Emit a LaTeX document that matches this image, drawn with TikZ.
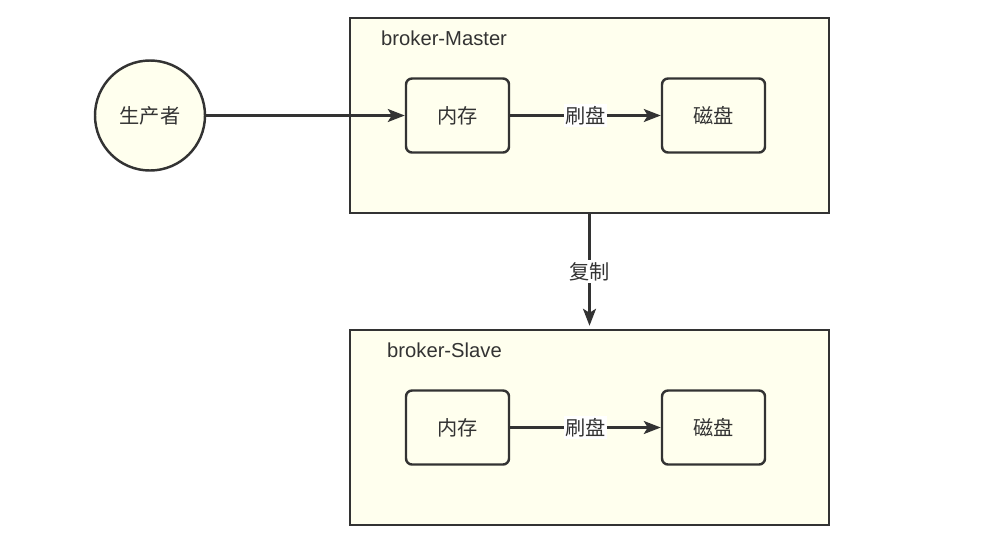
\documentclass[tikz,border=0pt]{standalone}
\usepackage{fontspec}
\setmainfont{Liberation Sans}
\newfontfamily\cjk{Noto Sans CJK SC}
\usetikzlibrary{arrows.meta}
\definecolor{boxfill}{HTML}{FFFFEE}
\definecolor{linegray}{HTML}{333333}

\begin{document}
\begin{tikzpicture}[x=0.2mm,y=-0.2mm,
    every node/.style={text=linegray,font=\fontsize{11.5}{13}\selectfont},
    broker/.style={draw=linegray,line width=1.4pt,fill=boxfill,minimum width=95.8mm,minimum height=39mm,inner sep=0pt},
    store/.style={draw=linegray,line width=1.4pt,fill=boxfill,rounded corners=1.2mm,minimum width=20.6mm,minimum height=14.8mm,inner sep=0pt,font=\cjk\fontsize{11.5}{13}\selectfont},
    link/.style={draw=linegray,line width=1.4pt,-{Stealth[length=3.4mm,width=2.6mm,inset=0.8mm]}},
    tag/.style={fill=white,inner sep=1pt,font=\cjk\fontsize{11.5}{13}\selectfont}]
    \useasboundingbox (0,0) rectangle (989,559);
    % 两个 broker
    \node[broker] (master) at (589.5,115.5) {};
    \node[broker] (slave) at (589.5,427.5) {};
    \node[anchor=west] (mastername) at (375,38) {broker-Master};
    \node[anchor=west] (slavename) at (381,350) {broker-Slave};

    % 生产者
    \node[draw=linegray,line width=1.4pt,fill=boxfill,circle,minimum size=22mm,inner sep=0pt,font=\cjk\fontsize{11.5}{13}\selectfont] (producer) at (150,115.5) {生产者};

    % 内存 与 磁盘
    \node[store] (mem1) at (457.5,115.5) {内存};
    \node[store] (disk1) at (713.5,115.5) {磁盘};
    \node[store] (mem2) at (457.5,427.5) {内存};
    \node[store] (disk2) at (713.5,427.5) {磁盘};

    \draw[link] (producer) -- (mem1);
    \draw[link] (mem1) -- node[tag] {刷盘} (disk1);
    \draw[link] (mem2) -- node[tag] {刷盘} (disk2);
    \draw[link,shorten >=0.6mm] (master) -- node[tag] {复制} (slave);
\end{tikzpicture}
\end{document}
